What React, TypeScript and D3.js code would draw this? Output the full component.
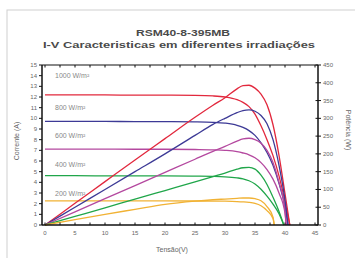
import React from "react";
import * as d3 from "d3";

// irradiance levels, top to bottom
const levels = ["1000 W/m²", "800 W/m²", "600 W/m²", "400 W/m²", "200 W/m²"];
const colors = ["#e2283d", "#3d3a96", "#b4489f", "#20a64a", "#f1b234"];

// voltage grid (V) and open-circuit voltage per curve
const voltages = [0, 5, 10, 15, 20, 25, 28, 30, 32, 33, 34, 35, 36, 37, 38, 39, 40];
const vocs = [40.8, 40.5, 40.2, 39.8, 38.2];

// current (A) read at the voltage grid
const current1000 = [12.2, 12.2, 12.19, 12.18, 12.17, 12.15, 12.1, 12.0, 11.75, 11.5, 11.1, 10.4, 9.3, 8.0, 6.5, 4.6, 2.2];
const current800 = [9.72, 9.72, 9.71, 9.7, 9.69, 9.67, 9.63, 9.55, 9.35, 9.15, 8.85, 8.4, 7.7, 6.8, 5.6, 3.9, 1.7];
const current600 = [7.12, 7.12, 7.11, 7.1, 7.1, 7.08, 7.05, 7.0, 6.88, 6.75, 6.58, 6.3, 5.85, 5.2, 4.3, 3.0, 1.1];
const current400 = [4.62, 4.62, 4.61, 4.6, 4.6, 4.58, 4.56, 4.52, 4.42, 4.33, 4.15, 3.85, 3.35, 2.7, 1.95, 1.05];
const current200 = [2.27, 2.27, 2.27, 2.26, 2.26, 2.25, 2.24, 2.23, 2.2, 2.17, 2.12, 2.02, 1.8, 1.35, 0.6];

// power (W) read at the voltage grid
const power1000 = [0, 61, 122, 183, 243, 303, 337, 358, 383, 392, 393, 385, 368, 338, 282, 196, 88];
const power800 = [0, 50, 100, 150, 200, 252, 283, 300, 316, 322, 324, 320, 308, 285, 240, 168, 70];
const power600 = [0, 37, 74, 111, 148, 185, 207, 221, 236, 242, 244, 240, 230, 210, 176, 120, 40];
const power400 = [0, 24, 48, 73, 97, 121, 136, 146, 157, 161, 162, 157, 140, 114, 78, 38];
const power200 = [0, 15, 30, 44, 58, 67, 71, 73, 75, 76, 76, 74, 68, 52, 22];

const currents = [current1000, current800, current600, current400, current200];
const powers = [power1000, power800, power600, power400, power200];

const xTicks = [0, 5, 10, 15, 20, 25, 30, 35, 40, 45];
const iTicks = d3.range(0, 16);
const pTicks = [0, 50, 100, 150, 200, 250, 300, 350, 400, 450];

const W = 355, H = 258;
const m = { left: 42, right: 318, top: 65, bottom: 225 };
const font = "Liberation Sans, Arial, sans-serif";

export default function App() {
  const x = d3.scaleLinear().domain([-0.5, 45.5]).range([m.left, m.right]);
  const yI = d3.scaleLinear().domain([0, 15]).range([m.bottom, m.top]);
  const yP = d3.scaleLinear().domain([0, 450]).range([m.bottom, m.top]);

  const toPts = (vals: number[], i: number) => {
    const pts: [number, number][] = vals.map((v, j) => [voltages[j], v]);
    pts.push([vocs[i], 0]);
    return pts;
  };
  const lineI = d3.line<[number, number]>().x(d => x(d[0])).y(d => yI(d[1])).curve(d3.curveMonotoneX);
  const lineP = d3.line<[number, number]>().x(d => x(d[0])).y(d => yP(d[1])).curve(d3.curveMonotoneX);

  const labelPos = [76, 108, 136, 165, 194];
  const tickFont = { fontSize: 6, fill: "#666", fontFamily: font };

  return (
    <svg width={W} height={H} style={{ position: "absolute", left: 0, top: 0, background: "#fff" }}>
      <rect x={7} y={10} width={420} height={320} fill="none" stroke="#cfcfcf" strokeWidth={1} />
      <text x={183} y={36} textAnchor="middle" fontFamily={font} fontWeight="bold"
        fontSize={8.5} fill="#4a4a4a" textLength={94} lengthAdjust="spacingAndGlyphs">RSM40-8-395MB</text>
      <text x={179} y={48} textAnchor="middle" fontFamily={font} fontWeight="bold"
        fontSize={9} fill="#4a4a4a" textLength={272} lengthAdjust="spacingAndGlyphs">I-V Caracteristicas em diferentes irradiações</text>

      {/* curves */}
      {currents.map((c, i) => (
        <path key={"i" + i} d={lineI(toPts(c, i)) || ""} fill="none" stroke={colors[i]} strokeWidth={1.3} />
      ))}
      {powers.map((p, i) => (
        <path key={"p" + i} d={lineP(toPts(p, i)) || ""} fill="none" stroke={colors[i]} strokeWidth={1.3} />
      ))}

      {/* irradiance labels */}
      {levels.map((l, i) => (
        <text key={l} x={55} y={labelPos[i] + 2} fontFamily={font} fontSize={7} fill="#888">{l}</text>
      ))}

      {/* frame */}
      <line x1={m.left} x2={m.right} y1={m.top} y2={m.top} stroke="#111" strokeWidth={1.2} />
      <line x1={m.left} x2={m.right} y1={m.bottom} y2={m.bottom} stroke="#111" strokeWidth={1.5} />
      <line x1={m.left} x2={m.left} y1={m.top} y2={m.bottom} stroke="#111" strokeWidth={1.5} />
      <line x1={m.right} x2={m.right} y1={m.top} y2={m.bottom} stroke="#111" strokeWidth={1.5} />

      {/* x ticks */}
      {d3.range(0, 46, 2.5).map(v => (
        <g key={"xt" + v}>
          <line x1={x(v)} x2={x(v)} y1={m.bottom} y2={m.bottom - 2.5} stroke="#111" />
          <line x1={x(v)} x2={x(v)} y1={m.top} y2={m.top + 2.5} stroke="#111" />
        </g>
      ))}
      {xTicks.map(v => (
        <text key={"xl" + v} x={x(v)} y={m.bottom + 10} textAnchor="middle" {...tickFont}>{v}</text>
      ))}

      {/* left ticks */}
      {iTicks.map(v => (
        <g key={"it" + v}>
          <line x1={m.left} x2={m.left - 3} y1={yI(v)} y2={yI(v)} stroke="#111" />
          <text x={m.left - 5} y={yI(v) + 2} textAnchor="end" {...tickFont}>{v}</text>
        </g>
      ))}

      {/* right ticks */}
      {pTicks.map(v => (
        <g key={"pt" + v}>
          <line x1={m.right} x2={m.right + 3} y1={yP(v)} y2={yP(v)} stroke="#111" />
          <line x1={m.right} x2={m.right - 2.5} y1={yP(v)} y2={yP(v)} stroke="#111" />
          <text x={m.right + 5} y={yP(v) + 2} {...tickFont}>{v}</text>
        </g>
      ))}

      <text transform={`translate(19,${141}) rotate(-90)`} textAnchor="middle" {...tickFont} fontSize={7}>Corrente (A)</text>
      <text transform={`translate(346,${130}) rotate(90)`} textAnchor="middle" {...tickFont} fontSize={7}>Potência (W)</text>
      <text x={172} y={252} textAnchor="middle" {...tickFont} fontSize={7}>Tensão(V)</text>
    </svg>
  );
}
